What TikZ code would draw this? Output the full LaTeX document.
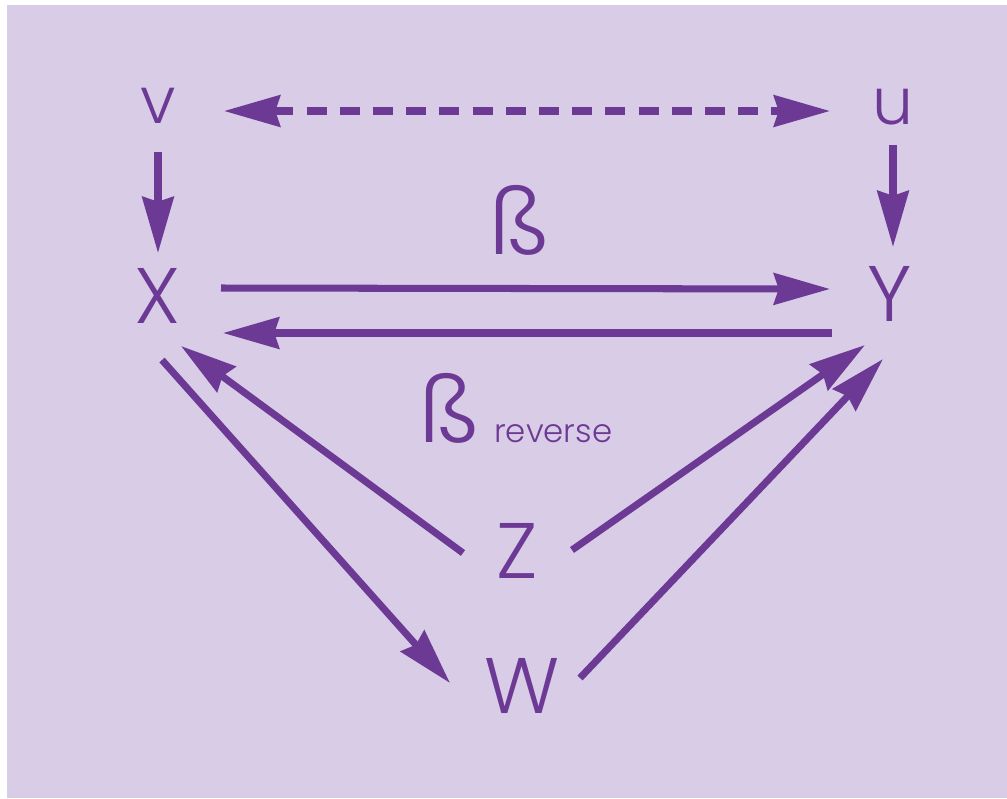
\documentclass[tikz,border=0pt]{standalone}
\usepackage{fontspec}
\newfontfamily\thinfont{Poppins Light}
\usetikzlibrary{arrows.meta, calc}
\definecolor{lila}{RGB}{217,204,230}
\definecolor{violett}{RGB}{108,57,148}
\tikzset{
	lbl/.style= {text= violett, inner sep= 0pt, font= \thinfont\fontsize{56}{56}\selectfont},
	klein/.style= {text= violett, inner sep= 0pt, font= \thinfont\fontsize{46}{46}\selectfont},
	pfeil/.style= {draw= violett, line width= 5pt, -{Stealth[length= 1.4cm, width= 0.78cm, inset= 0.12cm]}},
}

\begin{document}
\begin{tikzpicture}[x= 0.025cm, y= -0.025cm]
	\useasboundingbox (0, 0) rectangle (1007, 798);
	\fill[white](0, 0) rectangle (1007, 798); %余白
	\fill[lila](7, 5) rectangle (1007, 798); %背景

	\node[klein] (v) at (158, 106) {v};
	\node[klein] (u) at (893, 107) {u};
	\node[lbl] (X) at (158, 296) {X};
	\node[lbl] (Y) at (890, 294) {Y};
	\node[lbl] (Z) at (517, 551) {Z};
	\node[lbl] (W) at (522, 686) {W};
	\node[lbl, font= \thinfont\fontsize{64}{64}\selectfont] (beta) at (520, 220) {ß}; %上のラベル
	\node[lbl, anchor= base west, font= \thinfont\fontsize{64}{64}\selectfont] (betarev) at (420, 442) {ß\hspace{10pt}{\fontsize{23}{23}\selectfont reverse}}; %下のラベル

	\draw[pfeil, {Stealth[length= 1.4cm, width= 0.78cm, inset= 0.12cm]}-{Stealth[length= 1.4cm, width= 0.78cm, inset= 0.12cm]}, dash pattern= on 0.5cm off 0.33cm]($(v)+(66, 5)$)-- ($(u)+(-63, 4)$); %v- u 点線
	\draw[pfeil]($(v)+(0, 46)$)-- ($(X)+(0, -43)$); %v- X
	\draw[pfeil]($(u)+(0, 38)$)-- ($(Y)+(3, -47)$); %u- Y
	\draw[pfeil]($(X)+(63, -8)$)-- ($(Y)+(-60, -5)$); %X- Y
	\draw[pfeil]($(Y)+(-58, 39)$)-- ($(X)+(65, 37)$); %Y- X
	\draw[pfeil]($(Z)+(-54, 2)$)-- ($(X)+(23, 50)$); %Z- X
	\draw[pfeil]($(X)+(4, 64)$)-- ($(W)+(-72, -3)$); %X- W
	\draw[pfeil]($(Z)+(55, -1)$)-- ($(Y)+(-25, 51)$); %Z- Y
	\draw[pfeil]($(W)+(58, -8)$)-- ($(Y)+(-7, 65)$); %W- Y
\end{tikzpicture}
\end{document}
